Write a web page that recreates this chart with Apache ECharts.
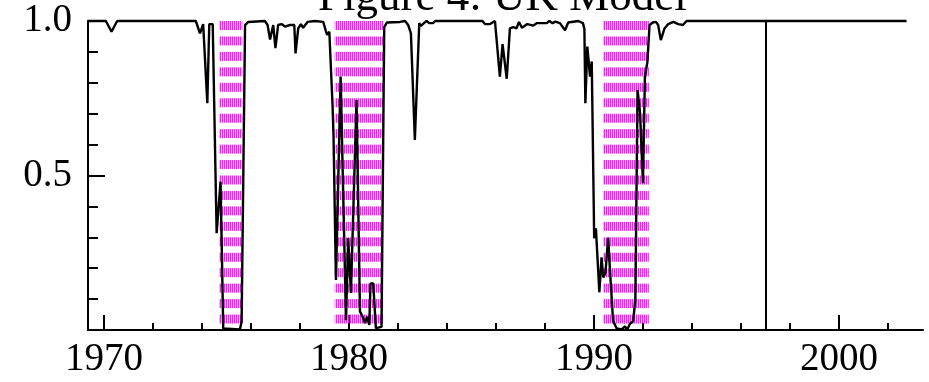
<!DOCTYPE html>
<html>
<head>
<meta charset="utf-8">
<script src="https://cdn.jsdelivr.net/npm/echarts@6/dist/echarts.min.js"></script>
<style>
html, body { margin: 0; padding: 0; background: #fff; }
#chart { width: 929px; height: 382px; }
</style>
</head>
<body>
<div id="chart"></div>
<script>
const titleText = 'Figure 4: UK Model';

// probability line (year, value)
const pointYears = [
  1969.33, 1970.08, 1970.31, 1970.54, 1973.75, 1973.92, 1974.05, 1974.22, 1974.3, 1974.44,
  1974.6, 1974.76, 1974.87, 1975.55, 1975.62, 1975.76, 1975.89, 1976.57, 1976.68, 1976.78,
  1976.91, 1977.0, 1977.11, 1977.25, 1977.39, 1977.59, 1977.77, 1977.82, 1977.93, 1978.04,
  1978.13, 1978.31, 1978.61, 1978.95, 1979.05, 1979.11, 1979.2, 1979.33, 1979.37, 1979.47,
  1979.66, 1979.88, 1979.97, 1980.08, 1980.31, 1980.45, 1980.56, 1980.65, 1980.74, 1980.83,
  1980.88, 1980.99, 1981.1, 1981.33, 1981.44, 1981.55, 1982.08, 1982.29, 1982.42, 1982.53,
  1982.69, 1982.87, 1982.94, 1983.06, 1983.17, 1983.28, 1983.43, 1983.52, 1985.45, 1985.55,
  1985.76, 1985.96, 1986.16, 1986.27, 1986.44, 1986.57, 1986.71, 1986.84, 1986.94, 1987.06,
  1987.28, 1987.52, 1987.66, 1988.07, 1988.18, 1988.31, 1988.42, 1988.61, 1988.82, 1988.95,
  1989.36, 1989.55, 1989.61, 1989.65, 1989.73, 1989.84, 1989.91, 1990.01, 1990.08, 1990.22,
  1990.31, 1990.38, 1990.47, 1990.58, 1990.65, 1990.78, 1990.93, 1991.13, 1991.27, 1991.35,
  1991.47, 1991.6, 1991.69, 1991.78, 1991.88, 1992.0, 1992.08, 1992.18, 1992.27, 1992.4,
  1992.53, 1992.62, 1992.73, 1992.88, 1993.03, 1993.24, 1993.44, 1993.63, 1993.78, 2002.76
];
const pointValues = [
  1.0, 1.0, 0.965, 1.0, 1.0, 0.96, 0.99, 0.734, 0.99, 0.99,
  0.313, 0.48, 0.005, 0.002, 0.027, 0.987, 0.997, 1.0, 0.987, 0.94,
  0.987, 0.912, 0.987, 0.99, 0.982, 0.987, 0.987, 0.895, 0.976, 0.99,
  0.978, 0.997, 1.0, 0.997, 0.97, 0.955, 0.965, 0.73, 0.63, 0.162,
  0.82, 0.032, 0.297, 0.12, 0.744, 0.06, 0.043, 0.022, 0.043, 0.016,
  0.151, 0.151, 0.006, 0.01, 0.98, 0.995, 0.997, 1.0, 0.987, 0.96,
  0.615, 0.993, 0.984, 0.993, 1.0, 0.993, 0.993, 1.0, 1.0, 0.99,
  0.99, 1.0, 0.82, 0.925, 0.813, 0.976, 0.98, 0.976, 0.997, 0.978,
  0.99, 0.985, 0.993, 0.993, 1.0, 0.993, 0.998, 0.993, 0.97, 0.995,
  1.0, 0.993, 0.975, 0.734, 0.917, 0.82, 0.869, 0.297, 0.329, 0.122,
  0.235, 0.17, 0.186, 0.298, 0.2, 0.03, 0.005, 0.002, 0.012, 0.0,
  0.02, 0.028, 0.1, 0.777, 0.705, 0.475, 0.82, 0.866, 0.987, 0.995,
  0.997, 0.987, 0.938, 0.976, 0.99, 0.997, 0.99, 0.987, 1.0, 1.0
];

// shaded recession periods
const recessionStart = [1974.7, 1979.42, 1990.37];
const recessionEnd = [1975.65, 1981.4, 1992.24];

const markerYears = [1997];

const xMajorTicks = [1970, 1980, 1990, 2000];
const xMinorTicks = [1972, 1974, 1976, 1978, 1982, 1984, 1986, 1988, 1992, 1994, 1996, 1998, 2002];
const yLabelTicks = [0.5, 1.0];
const yMinorTicks = [0.1, 0.2, 0.3, 0.4, 0.6, 0.7, 0.8, 0.9];

const xMin = 1969.35;
const xMax = 2003.43;
const serif = '"Liberation Serif", "Times New Roman", serif';

// dashed magenta stripes used to fill the bands
function stripePattern() {
  const c = document.createElement('canvas');
  c.width = 2;
  c.height = 309;
  const ctx = c.getContext('2d');
  for (let k = 0; k < 20; k++) {
    const y0 = (21 + k * 15.45) % 309;
    [0, -309].forEach(off => {
      ctx.fillStyle = 'rgba(255,0,255,0.9)';
      ctx.fillRect(0, y0 + off, 1, 9);
      ctx.fillStyle = 'rgba(255,0,255,0.3)';
      ctx.fillRect(1, y0 + off, 1, 9);
    });
  }
  return c;
}

const lineData = pointYears.map((y, i) => [y, pointValues[i]]);
const bandData = recessionStart.map((s, i) => [{ xAxis: s }, { xAxis: recessionEnd[i] }]);

const chart = echarts.init(document.getElementById('chart'));

const axisLine = { show: true, lineStyle: { color: '#000', width: 2 } };

chart.setOption({
  animation: false,
  title: {
    text: titleText,
    left: 318,
    top: -24,
    padding: 0,
    textStyle: { fontFamily: serif, fontSize: 45, fontWeight: 'normal', color: '#000' }
  },
  grid: { left: 88, right: 6, top: 21, bottom: 52 },
  xAxis: [
    {
      type: 'value',
      min: xMin,
      max: xMax,
      position: 'bottom',
      axisLine: axisLine,
      splitLine: { show: false },
      axisTick: { show: true, inside: true, length: 15, customValues: xMajorTicks, lineStyle: { color: '#000', width: 2 } },
      axisLabel: {
        show: true, customValues: xMajorTicks, margin: 10, color: '#000', fontFamily: serif, fontSize: 39,
        formatter: v => String(v)
      }
    },
    {
      type: 'value',
      min: xMin,
      max: xMax,
      position: 'bottom',
      axisLine: { show: false },
      splitLine: { show: false },
      axisTick: { show: true, inside: true, length: 7, customValues: xMinorTicks, lineStyle: { color: '#000', width: 2 } },
      axisLabel: { show: false }
    }
  ],
  yAxis: [
    {
      type: 'value',
      min: 0,
      max: 1,
      position: 'left',
      axisLine: axisLine,
      splitLine: { show: false },
      axisTick: { show: true, inside: true, length: 17, customValues: yLabelTicks, lineStyle: { color: '#000', width: 2 } },
      axisLabel: {
        show: true, customValues: yLabelTicks, margin: 16, color: '#000', fontFamily: serif, fontSize: 39,
        formatter: v => v.toFixed(1)
      }
    },
    {
      type: 'value',
      min: 0,
      max: 1,
      position: 'left',
      axisLine: { show: false },
      splitLine: { show: false },
      axisTick: { show: true, inside: true, length: 10, customValues: yMinorTicks, lineStyle: { color: '#000', width: 2 } },
      axisLabel: { show: false }
    }
  ],
  series: [
    {
      name: 'recessions',
      type: 'line',
      z: 1,
      data: [],
      markArea: {
        silent: true,
        itemStyle: { color: { image: stripePattern(), repeat: 'repeat' } },
        data: bandData
      }
    },
    {
      name: 'probability',
      type: 'line',
      z: 3,
      data: lineData,
      showSymbol: false,
      clip: false,
      lineStyle: { color: '#000', width: 2.4 },
      markLine: {
        silent: true,
        symbol: 'none',
        label: { show: false },
        lineStyle: { color: '#000', width: 2, type: 'solid' },
        data: markerYears.map(y => ({ xAxis: y }))
      }
    }
  ]
});
</script>
</body>
</html>
